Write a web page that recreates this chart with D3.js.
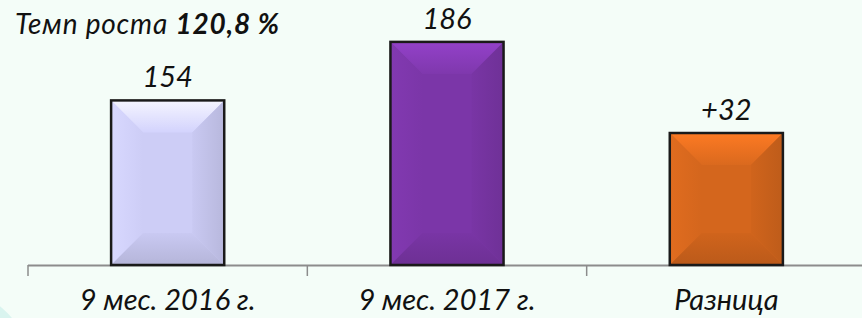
<!DOCTYPE html>
<html>
<head>
<meta charset="utf-8">
<script src="https://cdn.jsdelivr.net/npm/d3@7"></script>
<style>
    html, body { margin: 0; padding: 0; background: #f4fdf8; }
    svg { display: block; }
    text { font-family: Lato, "Open Sans", sans-serif; font-style: italic; fill: #111; }
</style>
</head>
<body>
<div id="chart"></div>
<script>
// chart data
var categories = ["9 мес. 2016 г.", "9 мес. 2017 г.", "Разница"];
var values = [154, 186, 32];
var valueLabels = ["154", "186", "+32"];
var growthRate = "120,8 %";
var barColors = ["#cdcdf6", "#7b36a8", "#d4661d"];

function init(){
    var w = 862;
    var h = 318;
    var base = 265;

    var svg = d3.select('#chart')
                .append('svg')
                .attr('width', w)
                .attr('height', h);

    var defs = svg.append('defs');

    // faint round accent in the lower left corner
    svg.append('circle')
        .attr('cx', -60)
        .attr('cy', 380)
        .attr('r', 95)
        .attr('fill', '#d9f4ef');

    // band scale for categories
    var xScale = d3.scaleBand()
                    .domain(d3.range(categories.length))
                    .range([28, 866])
                    .paddingInner(0.595)
                    .paddingOuter(0.2975);

    // the two periods share an axis that does not start at zero
    var yScale = d3.scaleLinear()
                    .domain([64, 210])
                    .range([base, -2]);

    // the difference bar has its own scale
    var yDiff = d3.scaleLinear()
                    .domain([0, 64])
                    .range([base, 1]);

    function yOf(d, i){
        return i === 2 ? yDiff(d) : yScale(d);
    }

    // axis line and ticks at band boundaries
    var step = xScale.step();
    svg.append('line')
        .attr('x1', 28).attr('x2', w)
        .attr('y1', base + 0.5).attr('y2', base + 0.5)
        .attr('stroke', '#8c8c8c')
        .attr('stroke-width', 2);

    svg.selectAll('line.tick')
        .data(d3.range(categories.length + 1))
        .enter()
        .append('line')
        .attr('class', 'tick')
        .attr('x1', function(d){ return 28 + d * step; })
        .attr('x2', function(d){ return 28 + d * step; })
        .attr('y1', base)
        .attr('y2', base + 11)
        .attr('stroke', '#8c8c8c')
        .attr('stroke-width', 1.5);

    // gradient from facet colour at the outer edge to the bar colour inside
    function facetGradient(id, dir, outer, inner){
        var v = {top: [0, 0, 0, 1], bottom: [0, 1, 0, 0], left: [0, 0, 1, 0], right: [1, 0, 0, 0]}[dir];
        var g = defs.append('linearGradient')
            .attr('id', id)
            .attr('x1', v[0]).attr('y1', v[1])
            .attr('x2', v[2]).attr('y2', v[3]);
        g.append('stop').attr('offset', 0).attr('stop-color', outer);
        g.append('stop').attr('offset', 1).attr('stop-color', inner);
    }

    // bevelled bars
    var bars = svg.selectAll('g.bar')
        .data(values)
        .enter()
        .append('g')
        .attr('class', 'bar');

    bars.each(function(d, i){
        var g = d3.select(this);
        var x0 = xScale(i);
        var x1 = x0 + xScale.bandwidth();
        var y0 = yOf(d, i);
        var y1 = base;
        var b = Math.min(32, (x1 - x0) / 2, (y1 - y0) / 2);
        var c = d3.color(barColors[i]);
        var mid = c.formatHex();

        facetGradient('top' + i, 'top', c.brighter(0.5).formatHex(), c.brighter(0.08).formatHex());
        facetGradient('left' + i, 'left', c.brighter(0.15).formatHex(), mid);
        facetGradient('right' + i, 'right', c.darker(0.3).formatHex(), c.darker(0.05).formatHex());
        facetGradient('bottom' + i, 'bottom', c.darker(0.35).formatHex(), c.darker(0.05).formatHex());

        g.append('rect')
            .attr('x', x0).attr('y', y0)
            .attr('width', x1 - x0).attr('height', y1 - y0)
            .attr('fill', mid);

        var facets = [
            { pts: [[x0, y0], [x1, y0], [x1 - b, y0 + b], [x0 + b, y0 + b]], id: 'top' },
            { pts: [[x0, y0], [x0 + b, y0 + b], [x0 + b, y1 - b], [x0, y1]], id: 'left' },
            { pts: [[x1, y0], [x1 - b, y0 + b], [x1 - b, y1 - b], [x1, y1]], id: 'right' },
            { pts: [[x0, y1], [x1, y1], [x1 - b, y1 - b], [x0 + b, y1 - b]], id: 'bottom' }
        ];

        g.selectAll('path')
            .data(facets)
            .enter()
            .append('path')
            .attr('d', function(f){ return 'M' + f.pts.join('L') + 'Z'; })
            .attr('fill', function(f){ return 'url(#' + f.id + i + ')'; });

        g.append('rect')
            .attr('x', x0).attr('y', y0)
            .attr('width', x1 - x0).attr('height', y1 - y0)
            .attr('fill', 'none')
            .attr('stroke', '#1a1a1a')
            .attr('stroke-width', 2.5);
    });

    // value labels above the bars
    svg.selectAll('text.value')
        .data(values)
        .enter()
        .append('text')
        .attr('class', 'value')
        .text(function(d, i){ return valueLabels[i]; })
        .attr('text-anchor', 'middle')
        .attr('font-size', 29)
        .attr('x', function(d, i){ return xScale(i) + xScale.bandwidth() / 2; })
        .attr('y', function(d, i){ return yOf(d, i) - 13; });

    // category labels
    svg.selectAll('text.cat')
        .data(categories)
        .enter()
        .append('text')
        .attr('class', 'cat')
        .text(function(d){ return d; })
        .attr('text-anchor', 'middle')
        .attr('font-size', 29)
        .attr('x', function(d, i){ return xScale(i) + xScale.bandwidth() / 2; })
        .attr('y', 310);

    // growth rate title
    var title = svg.append('text')
        .attr('x', 15)
        .attr('y', 34)
        .attr('font-size', 28)
        .attr('letter-spacing', 0.8);
    title.append('tspan').text('Темп роста ');
    title.append('tspan').attr('font-weight', 'bold').text(growthRate);
}

window.onload = init;
</script>
</body>
</html>
